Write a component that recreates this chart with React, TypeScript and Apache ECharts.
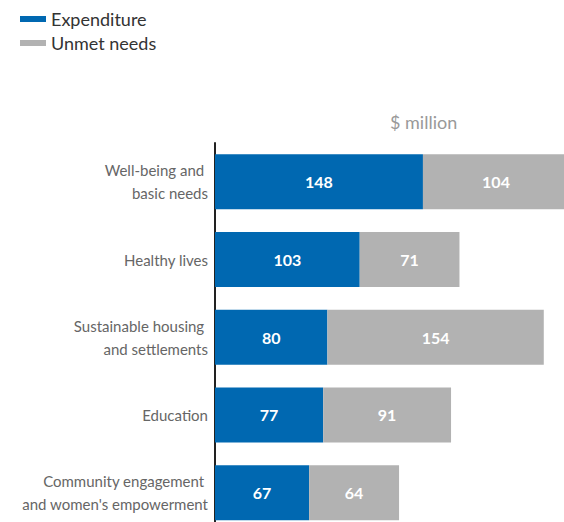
import React, { useEffect, useRef } from "react";
import * as echarts from "echarts";

const categories = [
  "Well-being and \nbasic needs",
  "Healthy lives",
  "Sustainable housing \nand settlements",
  "Education",
  "Community engagement \nand women's empowerment",
];
const expenditure = [148, 103, 80, 77, 67];
const unmetNeeds = [104, 71, 154, 91, 64];

export default function App() {
  const ref = useRef<HTMLDivElement>(null);
  useEffect(() => {
    if (!ref.current) return;
    const chart = echarts.init(ref.current, null, { renderer: "svg" });
    const font = "Lato";
    chart.setOption({
      animation: false,
      textStyle: { fontFamily: font },
      legend: {
        orient: "vertical",
        left: 15,
        top: 5,
        itemWidth: 26,
        itemHeight: 6,
        itemGap: 6,
        icon: "rect",
        textStyle: { fontSize: 18, color: "#333", fontFamily: font },
        data: ["Expenditure", "Unmet needs"],
      },
      graphic: [
        {
          type: "text",
          left: 390,
          top: 113,
          style: { text: "$ million", fontSize: 18, fill: "#999", fontFamily: font },
        },
      ],
      grid: { left: 215, top: 143, width: 365.3, height: 388.5, containLabel: false },
      xAxis: {
        type: "value",
        min: 0,
        max: 260,
        show: false,
      },
      yAxis: {
        type: "category",
        inverse: true,
        data: categories,
        axisLine: { show: true, lineStyle: { color: "#222", width: 2 } },
        axisTick: { show: false },
        axisLabel: {
          color: "#666",
          fontSize: 15,
          lineHeight: 23,
          align: "right",
          margin: 7,
          fontFamily: font,
        },
      },
      series: [
        {
          name: "Expenditure",
          type: "bar",
          stack: "total",
          data: expenditure,
          barWidth: 55,
          itemStyle: { color: "#0068B1" },
          label: {
            show: true,
            position: "inside",
            color: "#fff",
            fontWeight: "bold",
            fontSize: 16,
            fontFamily: font,
          },
        },
        {
          name: "Unmet needs",
          type: "bar",
          stack: "total",
          data: unmetNeeds,
          barWidth: 55,
          itemStyle: { color: "#B2B2B2" },
          label: {
            show: true,
            position: "inside",
            color: "#fff",
            fontWeight: "bold",
            fontSize: 16,
            fontFamily: font,
          },
        },
      ],
    });
    return () => chart.dispose();
  }, []);
  return (
    <div
      style={{
        position: "absolute",
        left: 0,
        top: 0,
        width: 564,
        height: 522,
        overflow: "hidden",
      }}
    >
      <div ref={ref} style={{ width: 620, height: 560 }} />
    </div>
  );
}
